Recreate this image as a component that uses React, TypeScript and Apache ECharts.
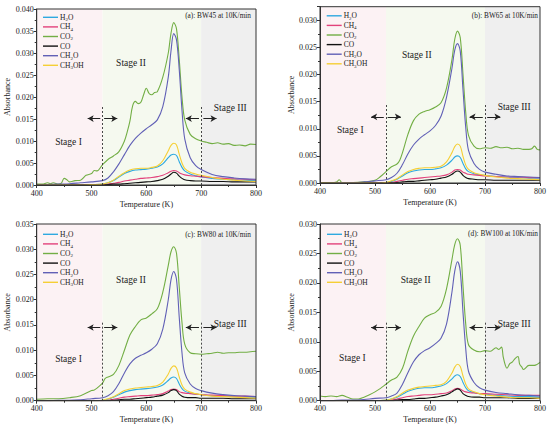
import React, { useEffect, useRef } from "react";
import * as echarts from "echarts";

// ---------- data ----------
const NAMES = ["H2O", "CH4", "CO2", "CO", "CH2O", "CH3OH"];
const COLORS = ["#2ea9e0", "#e2417b", "#72ae44", "#111111", "#6160b6", "#f5cf35"];

const T = [400, 420, 440, 460, 480, 500, 520, 530, 540, 550, 560, 570, 580, 590, 600, 610, 620, 630, 640, 645, 650, 655, 660, 665, 670, 680, 690, 700, 720, 740, 760, 780, 800];

// panel (a) BW45
const A_H2O = [0, 0, 0, 0, 0, 0.0001, 0.0002, 0.0005, 0.001, 0.0018, 0.0026, 0.0031, 0.0034, 0.0035, 0.0036, 0.0038, 0.0041, 0.0048, 0.0062, 0.0068, 0.007, 0.0067, 0.0053, 0.004, 0.0032, 0.0025, 0.0021, 0.0018, 0.0015, 0.0013, 0.0012, 0.0011, 0.001];
const A_CH4 = [0, 0, 0, 0, 0, 0, 0.0001, 0.0002, 0.0004, 0.0006, 0.0009, 0.0011, 0.0013, 0.0015, 0.0016, 0.0017, 0.0019, 0.0022, 0.0028, 0.0031, 0.0033, 0.0032, 0.0028, 0.0025, 0.0023, 0.0021, 0.002, 0.0019, 0.0017, 0.0015, 0.0014, 0.0013, 0.0012];
const A_CO = [0, 0, 0, 0, 0, 0, 0, 0.0001, 0.0002, 0.0002, 0.0003, 0.0004, 0.0005, 0.0006, 0.0007, 0.0008, 0.001, 0.0013, 0.002, 0.0025, 0.0029, 0.0027, 0.002, 0.0015, 0.0012, 0.001, 0.0009, 0.0009, 0.0008, 0.0008, 0.0007, 0.0007, 0.0007];
const A_CH2O = [0, 0.0001, 0.0002, 0.0003, 0.0005, 0.0007, 0.001, 0.0016, 0.003, 0.0048, 0.0069, 0.009, 0.0106, 0.0118, 0.0128, 0.0137, 0.0148, 0.0178, 0.0245, 0.0305, 0.0344, 0.033, 0.0262, 0.017, 0.0105, 0.0062, 0.0044, 0.0035, 0.0024, 0.0019, 0.0016, 0.0014, 0.0013];
const A_CH3OH = [0, 0, 0, 0, 0, 0.0001, 0.0002, 0.0005, 0.0011, 0.002, 0.0028, 0.0034, 0.0037, 0.0038, 0.0038, 0.004, 0.0043, 0.0055, 0.0078, 0.009, 0.0095, 0.0091, 0.007, 0.005, 0.0038, 0.0029, 0.0025, 0.0022, 0.0017, 0.0013, 0.0011, 0.0009, 0.0008];
const A_CO2_T = [400, 410, 420, 425, 430, 440, 445, 450, 455, 460, 470, 480, 490, 500, 505, 510, 520, 530, 540, 550, 560, 565, 570, 575, 580, 585, 590, 595, 600, 605, 610, 615, 620, 630, 640, 645, 650, 655, 660, 665, 670, 680, 690, 700, 710, 720, 730, 740, 750, 760, 770, 780, 790, 800];
const A_CO2 = [0.0002, 0.0002, 0.0005, 0.0003, 0.0005, 0.0002, 0.0004, 0.0015, 0.0012, 0.0007, 0.001, 0.0011, 0.0022, 0.0026, 0.0033, 0.0032, 0.0046, 0.0058, 0.0066, 0.0076, 0.01, 0.012, 0.0145, 0.018, 0.019, 0.0185, 0.0188, 0.0205, 0.022, 0.0208, 0.0205, 0.021, 0.0212, 0.0245, 0.03, 0.0345, 0.0369, 0.0355, 0.0285, 0.02, 0.0148, 0.0115, 0.0105, 0.01, 0.0097, 0.0094, 0.0096, 0.0093, 0.0094, 0.009, 0.0091, 0.0089, 0.0093, 0.0092];

// panel (b) BW65
const B_H2O = [0, 0, 0, 0, 0, 0, 0.0001, 0.0003, 0.0007, 0.0013, 0.0019, 0.0022, 0.0024, 0.0025, 0.0025, 0.0026, 0.0028, 0.0033, 0.0042, 0.0048, 0.005, 0.0047, 0.0036, 0.0026, 0.0021, 0.0017, 0.0015, 0.0014, 0.0012, 0.0011, 0.001, 0.0009, 0.0009];
const B_CH4 = [0, 0, 0, 0, 0, 0, 0, 0.0001, 0.0003, 0.0005, 0.0007, 0.0008, 0.0009, 0.001, 0.0011, 0.0012, 0.0013, 0.0015, 0.002, 0.0024, 0.0025, 0.0024, 0.002, 0.0018, 0.0016, 0.0015, 0.0014, 0.0013, 0.0012, 0.0011, 0.0011, 0.001, 0.001];
const B_CO = [0, 0, 0, 0, 0, 0, 0, 0, 0.0001, 0.0002, 0.0003, 0.0003, 0.0004, 0.0005, 0.0006, 0.0007, 0.0009, 0.0011, 0.0016, 0.002, 0.0022, 0.002, 0.0014, 0.001, 0.0008, 0.0007, 0.0006, 0.0006, 0.0005, 0.0005, 0.0005, 0.0005, 0.0005];
const B_CH2O = [0, 0, 0.0001, 0.0001, 0.0002, 0.0004, 0.0006, 0.001, 0.0018, 0.0034, 0.0054, 0.007, 0.0081, 0.0089, 0.0096, 0.0106, 0.0123, 0.0158, 0.0212, 0.0245, 0.0257, 0.0243, 0.0172, 0.0102, 0.006, 0.0036, 0.0025, 0.002, 0.0016, 0.0013, 0.0012, 0.0011, 0.001];
const B_CH3OH = [0, 0, 0, 0, 0, 0, 0.0001, 0.0004, 0.0008, 0.0015, 0.0021, 0.0025, 0.0027, 0.0028, 0.0028, 0.0029, 0.0031, 0.0039, 0.0056, 0.0067, 0.0072, 0.0068, 0.0049, 0.0033, 0.0025, 0.0019, 0.0016, 0.0014, 0.0011, 0.0009, 0.0008, 0.0007, 0.0006];
const B_CO2_T = [400, 420, 430, 435, 440, 460, 480, 500, 510, 520, 530, 540, 545, 550, 560, 570, 580, 590, 600, 610, 620, 630, 640, 645, 650, 655, 660, 665, 670, 680, 690, 700, 710, 720, 730, 740, 750, 760, 770, 780, 785, 790, 795, 800];
const B_CO2 = [0.0001, 0.0001, 0.0002, 0.0006, 0.0001, 0.0001, 0.0002, 0.0005, 0.0012, 0.0021, 0.003, 0.0035, 0.0042, 0.0056, 0.009, 0.0115, 0.0127, 0.0132, 0.0135, 0.014, 0.0148, 0.0175, 0.0228, 0.0265, 0.028, 0.0268, 0.02, 0.013, 0.0088, 0.0068, 0.0063, 0.0065, 0.0064, 0.0067, 0.0065, 0.0066, 0.0063, 0.0064, 0.0062, 0.0062, 0.0063, 0.0068, 0.0062, 0.0061];

// panel (c) BW80
const C_H2O = [0, 0, 0, 0, 0, 0, 0.0001, 0.0003, 0.0007, 0.0012, 0.0017, 0.002, 0.0022, 0.0023, 0.0024, 0.0025, 0.0027, 0.0031, 0.004, 0.0045, 0.0047, 0.0044, 0.0033, 0.0024, 0.0019, 0.0015, 0.0013, 0.0012, 0.001, 0.0009, 0.0008, 0.0007, 0.0007];
const C_CH4 = [0, 0, 0, 0, 0, 0, 0, 0.0001, 0.0003, 0.0005, 0.0007, 0.0008, 0.0009, 0.001, 0.001, 0.0011, 0.0012, 0.0014, 0.0019, 0.0022, 0.0023, 0.0022, 0.0018, 0.0016, 0.0015, 0.0014, 0.0013, 0.0012, 0.0011, 0.001, 0.0009, 0.0009, 0.0008];
const C_CO = [0, 0, 0, 0, 0, 0, 0, 0, 0.0001, 0.0002, 0.0003, 0.0003, 0.0004, 0.0005, 0.0006, 0.0007, 0.0009, 0.0011, 0.0016, 0.002, 0.0022, 0.002, 0.0013, 0.0009, 0.0007, 0.0006, 0.0006, 0.0005, 0.0005, 0.0005, 0.0004, 0.0004, 0.0004];
const C_CH2O = [0, 0, 0.0001, 0.0001, 0.0002, 0.0004, 0.0006, 0.001, 0.0018, 0.0034, 0.0055, 0.0073, 0.0084, 0.009, 0.0095, 0.0102, 0.0113, 0.0142, 0.02, 0.024, 0.0256, 0.024, 0.0165, 0.0095, 0.0055, 0.0033, 0.0024, 0.002, 0.0015, 0.0012, 0.001, 0.0009, 0.0008];
const C_CH3OH = [0, 0, 0, 0, 0, 0, 0.0001, 0.0004, 0.0008, 0.0014, 0.002, 0.0023, 0.0025, 0.0026, 0.0027, 0.0028, 0.003, 0.0037, 0.0053, 0.0064, 0.0069, 0.0065, 0.0047, 0.0031, 0.0023, 0.0017, 0.0014, 0.0012, 0.0009, 0.0008, 0.0007, 0.0006, 0.0005];
const C_CO2_T = [400, 420, 440, 460, 480, 500, 505, 510, 520, 525, 530, 540, 550, 560, 570, 580, 590, 600, 610, 620, 630, 640, 645, 650, 655, 660, 665, 670, 680, 690, 700, 710, 720, 730, 740, 750, 760, 770, 780, 790, 800];
const C_CO2 = [0.0003, 0.0004, 0.0004, 0.0006, 0.001, 0.002, 0.0021, 0.0025, 0.0035, 0.0044, 0.0047, 0.0052, 0.007, 0.01, 0.013, 0.0147, 0.016, 0.0164, 0.0172, 0.0182, 0.0215, 0.0268, 0.0295, 0.0305, 0.0292, 0.0225, 0.0155, 0.0112, 0.0095, 0.0093, 0.0092, 0.0093, 0.0094, 0.0096, 0.0094, 0.0095, 0.0095, 0.0096, 0.0096, 0.0097, 0.0098];

// panel (d) BW100
const D_H2O = [0, 0, 0, 0, 0, 0, 0.0001, 0.0003, 0.0006, 0.0011, 0.0016, 0.0019, 0.0021, 0.0022, 0.0022, 0.0023, 0.0025, 0.0029, 0.0037, 0.0042, 0.0044, 0.0041, 0.0031, 0.0022, 0.0017, 0.0014, 0.0012, 0.0011, 0.0009, 0.0008, 0.0007, 0.0007, 0.0006];
const D_CH4 = [0, 0, 0, 0, 0, 0, 0, 0.0001, 0.0003, 0.0005, 0.0007, 0.0008, 0.0009, 0.001, 0.001, 0.0011, 0.0012, 0.0013, 0.0017, 0.002, 0.0021, 0.002, 0.0017, 0.0015, 0.0014, 0.0013, 0.0012, 0.0012, 0.0011, 0.001, 0.0009, 0.0009, 0.0009];
const D_CO = [0, 0, 0, 0, 0, 0, 0, 0, 0.0001, 0.0002, 0.0002, 0.0003, 0.0004, 0.0004, 0.0005, 0.0006, 0.0008, 0.001, 0.0015, 0.0018, 0.002, 0.0018, 0.0012, 0.0009, 0.0007, 0.0006, 0.0006, 0.0005, 0.0005, 0.0005, 0.0004, 0.0004, 0.0004];
const D_CH2O = [0, 0, 0.0001, 0.0001, 0.0002, 0.0004, 0.0005, 0.0008, 0.0013, 0.0028, 0.0048, 0.0066, 0.0078, 0.0085, 0.009, 0.0097, 0.0106, 0.013, 0.0185, 0.022, 0.0236, 0.022, 0.015, 0.0088, 0.005, 0.0031, 0.0022, 0.0018, 0.0014, 0.0012, 0.001, 0.0009, 0.0008];
const D_CH3OH = [0, 0, 0, 0, 0, 0, 0.0001, 0.0003, 0.0007, 0.0013, 0.0018, 0.0021, 0.0023, 0.0024, 0.0025, 0.0026, 0.0027, 0.0033, 0.0047, 0.0057, 0.0062, 0.0058, 0.0042, 0.0028, 0.002, 0.0015, 0.0012, 0.001, 0.0008, 0.0006, 0.0005, 0.0005, 0.0004];
const D_CO2_T = [400, 410, 420, 430, 440, 450, 460, 470, 480, 490, 500, 510, 520, 530, 540, 550, 560, 570, 580, 590, 600, 610, 620, 630, 640, 645, 650, 655, 660, 665, 670, 680, 690, 700, 710, 720, 725, 730, 733, 737, 740, 745, 750, 755, 760, 763, 767, 770, 780, 790, 800];
const D_CO2 = [0.0008, 0.0007, 0.0008, 0.0007, 0.0009, 0.0006, 0.0003, 0.0003, 0.0006, 0.001, 0.0015, 0.0021, 0.0028, 0.0035, 0.004, 0.0055, 0.0085, 0.011, 0.0126, 0.014, 0.0146, 0.015, 0.016, 0.019, 0.024, 0.0265, 0.0275, 0.0264, 0.0195, 0.013, 0.0095, 0.0086, 0.0083, 0.0085, 0.0084, 0.009, 0.0087, 0.0091, 0.0075, 0.006, 0.0055, 0.0063, 0.0066, 0.0072, 0.0075, 0.0062, 0.0057, 0.0053, 0.006, 0.006, 0.0065];

const PANEL_TITLES = ["(a): BW45 at 10K/min", "(b): BW65 at 10K/min", "(c): BW80 at 10K/min", "(d): BW100 at 10K/min"];
const Y_MAX = [0.04, 0.0325, 0.035, 0.03];
const STAGE_BOUNDS = [400, 520, 700, 800];
const STAGE_LABELS = ["Stage I", "Stage II", "Stage III"];
const STAGE_LABEL_T = [[458, 572, 753], [455, 576, 753], [458, 572, 753], [459, 574, 753]];
const STAGE_LABEL_Y = [[0.0097, 0.0277, 0.0175], [0.0098, 0.0236, 0.014], [0.0083, 0.0239, 0.0151], [0.0072, 0.0205, 0.0131]];
const DASH_TOP = [0.018, 0.0145, 0.0157, 0.0135];
const ARROW_Y = [0.0151, 0.0122, 0.0145, 0.0124];
const ARROWS_T = [[516, 493], [523, 547], [696, 672], [704, 728]];

const PANELS = [
  { series: [A_H2O, A_CH4, A_CO2, A_CO, A_CH2O, A_CH3OH], co2T: A_CO2_T },
  { series: [B_H2O, B_CH4, B_CO2, B_CO, B_CH2O, B_CH3OH], co2T: B_CO2_T },
  { series: [C_H2O, C_CH4, C_CO2, C_CO, C_CH2O, C_CH3OH], co2T: C_CO2_T },
  { series: [D_H2O, D_CH4, D_CO2, D_CO, D_CH2O, D_CH3OH], co2T: D_CO2_T },
];

// ---------- layout ----------
const GRIDS = [
  { left: 36.7, top: 9, width: 219.3, height: 176 },
  { left: 320, top: 6.7, width: 220, height: 176.3 },
  { left: 36.7, top: 224, width: 219.3, height: 176.7 },
  { left: 320, top: 224, width: 220, height: 176.7 },
];
const LEGEND_POS = [
  { left: 43, top: 12.5 },
  { left: 326.7, top: 11 },
  { left: 43, top: 229.5 },
  { left: 327, top: 229.5 },
];
const TITLE_POS = [
  { x: 251, y: 15.5 },
  { x: 538, y: 15 },
  { x: 251, y: 234 },
  { x: 538, y: 233.5 },
];

const FONT = "Liberation Serif";
const STAGE_COLORS = ["#fcf2f4", "#f5f9ef", "#efefef"];

function subFormat(name: string) {
  return name
    .split(/(\d)/)
    .filter((t) => t.length > 0)
    .map((t) => (/\d/.test(t) ? `{s|${t}}` : `{n|${t}}`))
    .join("");
}

function buildOption() {
  const grid: any[] = [];
  const xAxis: any[] = [];
  const yAxis: any[] = [];
  const legend: any[] = [];
  const series: any[] = [];
  const graphic: any[] = [];

  PANELS.forEach((p, i) => {
    grid.push({ ...GRIDS[i], show: true, borderColor: "#333", borderWidth: 1, z: 6, backgroundColor: "transparent" });
    xAxis.push({
      type: "value",
      gridIndex: i,
      min: 400,
      max: 800,
      interval: 100,
      z: 6,
      name: "Temperature (K)",
      nameLocation: "middle",
      nameGap: 15,
      nameTextStyle: { fontSize: 8, color: "#222", fontFamily: FONT },
      axisLine: { lineStyle: { color: "#333", width: 1 } },
      axisTick: { length: 3, lineStyle: { color: "#333" } },
      minorTick: { show: true, splitNumber: 2, length: 2, lineStyle: { color: "#333" } },
      axisLabel: { fontSize: 8, color: "#222", margin: 4, fontFamily: FONT },
      splitLine: { show: false },
    });
    yAxis.push({
      type: "value",
      gridIndex: i,
      min: 0,
      max: Y_MAX[i],
      interval: 0.005,
      z: 6,
      name: "Absorbance",
      nameLocation: "middle",
      nameGap: 25,
      nameTextStyle: { fontSize: 8, color: "#222", fontFamily: FONT },
      axisLine: { show: true, lineStyle: { color: "#333", width: 1 } },
      axisTick: { show: true, length: 3, lineStyle: { color: "#333" } },
      minorTick: { show: true, splitNumber: 2, length: 2, lineStyle: { color: "#333" } },
      axisLabel: {
        fontSize: 8,
        color: "#222",
        margin: 3,
        fontFamily: FONT,
        formatter: (v: number) => (Math.abs(v / 0.005 - Math.round(v / 0.005)) < 1e-6 ? v.toFixed(3) : ""),
      },
      splitLine: { show: false },
    });
    legend.push({
      ...LEGEND_POS[i],
      orient: "vertical",
      data: NAMES,
      selectedMode: false,
      icon: "rect",
      itemWidth: 15,
      itemHeight: 1.4,
      itemGap: 0,
      padding: 0,
      formatter: subFormat,
      textStyle: {
        fontSize: 7.5,
        lineHeight: 9.6,
        color: "#222",
        fontFamily: FONT,
        padding: [0, 0, 0, -3],
        rich: {
          n: { fontSize: 7.5, lineHeight: 9.6, fontFamily: FONT, color: "#222" },
          s: { fontSize: 5, lineHeight: 5.8, verticalAlign: "bottom", fontFamily: FONT, color: "#222" },
        },
      },
    });

    p.series.forEach((vals, k) => {
      const xs = k === 2 ? p.co2T : T;
      const s: any = {
        name: NAMES[k],
        type: "line",
        xAxisIndex: i,
        yAxisIndex: i,
        data: vals.map((v, j) => [xs[j], v]),
        showSymbol: false,
        symbol: "none",
        smooth: 0.35,
        color: COLORS[k],
        lineStyle: { width: 1.1, color: COLORS[k] },
        z: 2,
      };
      if (k === 2) {
        s.markArea = {
          silent: true,
          z: 1,
          data: [0, 1, 2].map((j) => [
            { xAxis: STAGE_BOUNDS[j], itemStyle: { color: STAGE_COLORS[j] } },
            { xAxis: STAGE_BOUNDS[j + 1] },
          ]),
        };
      }
      if (k === 3) {
        const y = ARROW_Y[i];
        s.markLine = {
          silent: true,
          animation: false,
          symbol: ["none", "arrow"],
          symbolSize: [5, 6],
          label: { show: false },
          lineStyle: { color: "#222", width: 1, type: "solid" },
          data: [
            [
              { coord: [520, 0], symbol: "none", lineStyle: { type: [2, 2], color: "#333", width: 0.9 } },
              { coord: [520, DASH_TOP[i]], symbol: "none" },
            ],
            [
              { coord: [700, 0], symbol: "none", lineStyle: { type: [2, 2], color: "#333", width: 0.9 } },
              { coord: [700, DASH_TOP[i]], symbol: "none" },
            ],
            ...ARROWS_T.map((a) => [{ coord: [a[0], y] }, { coord: [a[1], y] }]),
          ],
        };
        s.markPoint = {
          silent: true,
          symbol: "circle",
          symbolSize: 0,
          label: { show: true, position: "inside", fontSize: 9.5, color: "#222", fontFamily: FONT },
          data: STAGE_LABELS.map((lab, j) => ({
            coord: [STAGE_LABEL_T[i][j], STAGE_LABEL_Y[i][j]],
            label: { formatter: lab },
          })),
        };
      }
      series.push(s);
    });

    graphic.push({
      type: "text",
      x: TITLE_POS[i].x,
      y: TITLE_POS[i].y,
      z: 100,
      silent: true,
      style: {
        text: PANEL_TITLES[i],
        font: "7.3px Liberation Serif",
        fill: "#222",
        align: "right",
        verticalAlign: "middle",
      },
    });
  });

  return {
    animation: false,
    backgroundColor: "#ffffff",
    textStyle: { fontFamily: FONT },
    grid,
    xAxis,
    yAxis,
    legend,
    series,
    graphic,
  };
}

export default function App() {
  const ref = useRef<HTMLDivElement>(null);
  useEffect(() => {
    if (!ref.current) return;
    const chart = echarts.init(ref.current, undefined, { renderer: "svg" });
    chart.setOption(buildOption() as any);
    return () => chart.dispose();
  }, []);
  return <div ref={ref} style={{ position: "fixed", left: 0, top: 0, width: 550, height: 431 }} />;
}
